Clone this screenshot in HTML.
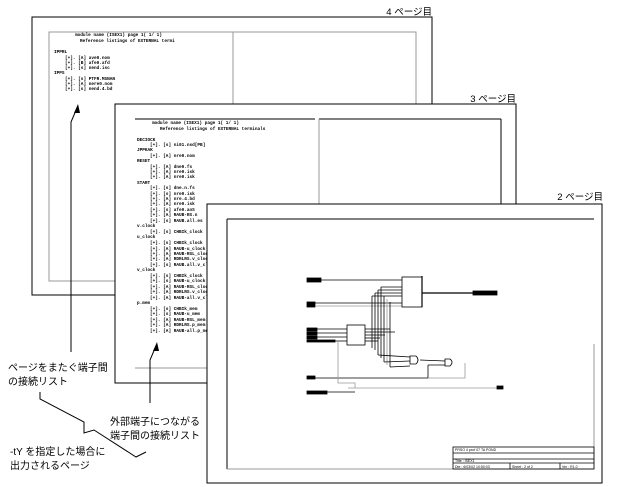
<!DOCTYPE html>
<html><head><meta charset="utf-8"><style>
html,body{margin:0;padding:0;background:#fff;}
svg{display:block;}
.t{font-family:"Liberation Mono",monospace;font-size:4.4px;fill:#000;font-weight:bold;}
.j{font-family:"Liberation Sans","Noto Sans CJK JP",sans-serif;font-size:10px;fill:#000;}
.p{font-family:"Liberation Sans","Noto Sans CJK JP",sans-serif;font-size:9.5px;fill:#000;text-anchor:end;}
.s{font-family:"Liberation Sans",sans-serif;font-size:3.5px;fill:#000;}
</style></head><body>
<svg width="620" height="487" viewBox="0 0 620 487" xmlns="http://www.w3.org/2000/svg">
<!-- Page 4 -->
<text class="p" x="432" y="15">4 ページ目</text>
<rect x="32" y="17" width="400" height="278" fill="#fff" stroke="#000" stroke-width="1"/>
<rect x="49" y="32" width="367" height="249" fill="none" stroke="#999" stroke-width="1"/>
<line x1="233" y1="32" x2="233" y2="281" stroke="#999"/>
<g class="t">
<text x="75" y="36">module name (ISEX1) page 1( 1/ 1)</text>
<text x="80" y="42">Reference listings of EXTERNAL termi</text>
<text x="54" y="53">IPPRL</text>
<text x="65" y="59">[+]. [A] ave0.nom</text>
<text x="65" y="64">[+]. [B] afe0.afd</text>
<text x="65" y="69">[+]. [s] nend.isc</text>
<text x="54" y="74">IPPS</text>
<text x="65" y="80">[+]. [s] PTFR.MSNAN</text>
<text x="65" y="85">[+]. [A] nere0.nom</text>
<text x="65" y="90">[+]. [s] nend.4.bd</text>
</g>
<!-- Page 3 -->
<text class="p" x="516" y="102">3 ページ目</text>
<rect x="115" y="104" width="401" height="279" fill="#fff" stroke="#000" stroke-width="1"/>
<line x1="135" y1="119" x2="315" y2="119" stroke="#000"/>
<line x1="319" y1="119" x2="501" y2="119" stroke="#000"/>
<line x1="501" y1="119" x2="501" y2="210" stroke="#000"/>
<line x1="319" y1="119" x2="319" y2="210" stroke="#999"/>
<line x1="135" y1="368" x2="210" y2="368" stroke="#999"/>
<g class="t">
<text x="152" y="124">module name (ISEX1) page 1( 1/ 1)</text>
<text x="160" y="130">Reference listings of EXTERNAL terminals</text>
<text x="137" y="141">DECIOCK</text>
<text x="150" y="146">[+]. [s] ni01.nsd[PB]</text>
<text x="137" y="151">JPPKAK</text>
<text x="150" y="157">[+]. [A] nre0.nom</text>
<text x="137" y="162">RESET</text>
<text x="150" y="168">[+]. [A] dne0.fs</text>
<text x="150" y="173">[+]. [A] nre0.isk</text>
<text x="150" y="178">[+]. [A] nre0.isk</text>
<text x="137" y="184">START</text>
<text x="150" y="189">[+]. [s] dne.n.fs</text>
<text x="150" y="195">[+]. [s] nre0.isk</text>
<text x="150" y="200">[+]. [A] nre.4.bd</text>
<text x="150" y="205">[+]. [A] nre0.isk</text>
<text x="150" y="211">[+]. [s] afe0.anS</text>
<text x="150" y="216">[+]. [A] RAUB-RS.n</text>
<text x="150" y="222">[+]. [s] RAUB.all.es</text>
<text x="137" y="227">v.clock</text>
<text x="150" y="233">[+]. [s] CHBIk_clock</text>
<text x="137" y="238">u_clock</text>
<text x="150" y="244">[+]. [s] CHBIk_clock</text>
<text x="150" y="250">[+]. [A] RAUB-u_clock</text>
<text x="150" y="255">[+]. [A] RAUB-RSL_clock</text>
<text x="150" y="260">[+]. [A] RDRLRS.v_clock</text>
<text x="150" y="266">[+]. [s] RAUB.all.v_clock</text>
<text x="137" y="271">v_clock</text>
<text x="150" y="277">[+]. [s] CHBIk_clock</text>
<text x="150" y="282">[+]. [s] RAUB-u_clock</text>
<text x="150" y="288">[+]. [A] RAUB-RSL_clock</text>
<text x="150" y="293">[+]. [A] RDRLRS.v_clock</text>
<text x="150" y="299">[+]. [A] RAUB-all.v_clock</text>
<text x="137" y="304">p.mem</text>
<text x="150" y="310">[+]. [s] CHBIk_mem</text>
<text x="150" y="315">[+]. [s] RAUB-u_mem</text>
<text x="150" y="321">[+]. [A] RAUB-RSL_mem</text>
<text x="150" y="326">[+]. [A] RDRLRS.p_mem</text>
<text x="150" y="332">[+]. [A] RAUB-all.p_mem</text>
</g>
<!-- Page 2 -->
<text class="p" x="603" y="200">2 ページ目</text>
<rect x="207" y="204" width="395" height="279" fill="#fff" stroke="#000" stroke-width="1"/>
<line x1="227" y1="219" x2="594" y2="219" stroke="#000"/>
<line x1="227" y1="219" x2="227" y2="469" stroke="#000"/>
<line x1="227" y1="469" x2="594" y2="469" stroke="#999"/>
<line x1="594" y1="344" x2="594" y2="469" stroke="#999"/>
<g stroke="#000" fill="none" stroke-width="0.8">
<rect x="453" y="447" width="141" height="22"/>
<line x1="453" y1="453" x2="594" y2="453"/>
<line x1="453" y1="459" x2="594" y2="459"/>
<line x1="453" y1="463" x2="594" y2="463"/>
<line x1="510" y1="463" x2="510" y2="469"/>
<line x1="560" y1="463" x2="560" y2="469"/>
</g>
<g class="s"><text x="455" y="451">PRSO 4 pxcf 07 TA POND</text><text x="455" y="462">Titte : ISEX1</text><text x="455" y="468">Dte : 6/03/02 10:50:03</text><text x="512" y="468">Sheet : 2 of 2</text><text x="562" y="468">Ver : R1.0</text></g>
<!-- schematic -->
<g stroke="#000" stroke-width="0.8" fill="none">
<rect x="307" y="278" width="14" height="4" fill="#000"/>
<line x1="321" y1="280" x2="402" y2="280"/>
<rect x="307" y="302" width="8" height="5" fill="#000"/>
<line x1="315" y1="303" x2="402" y2="303"/>
<line x1="315" y1="306" x2="402" y2="306" stroke="#999"/>
<rect x="402" y="277" width="20" height="30"/>
<line x1="422" y1="276" x2="422" y2="307" stroke-width="1.2"/>
<line x1="422" y1="293" x2="473" y2="293" stroke-width="1.2"/>
<rect x="473" y="291" width="24" height="4" fill="#000"/>
<rect x="347" y="325" width="18" height="20"/>
<rect x="307" y="328" width="10" height="3" fill="#000"/>
<rect x="307" y="332" width="10" height="3" fill="#000"/>
<rect x="307" y="336" width="10" height="3" fill="#000"/>
<rect x="307" y="340" width="28" height="2" fill="#000"/>
<line x1="317" y1="329" x2="347" y2="329"/><line x1="317" y1="333" x2="347" y2="333"/><line x1="317" y1="337" x2="347" y2="337"/><line x1="335" y1="341" x2="347" y2="341"/>
<line x1="372" y1="296" x2="372" y2="348"/><line x1="375" y1="293" x2="375" y2="350"/><line x1="378" y1="290" x2="378" y2="355"/><line x1="381" y1="287" x2="381" y2="358"/>
<line x1="384" y1="296" x2="384" y2="362"/><line x1="387" y1="299" x2="387" y2="365" stroke="#999"/><line x1="390" y1="302" x2="390" y2="367"/>
<line x1="372" y1="296" x2="402" y2="296"/><line x1="375" y1="293" x2="402" y2="293"/><line x1="378" y1="290" x2="402" y2="290"/><line x1="381" y1="287" x2="402" y2="287"/>
<line x1="365" y1="329" x2="390" y2="329"/><line x1="365" y1="332" x2="395" y2="332"/><line x1="365" y1="335" x2="385" y2="335"/><line x1="365" y1="338" x2="380" y2="338"/><line x1="365" y1="341" x2="378" y2="341"/>
<line x1="378" y1="355" x2="410" y2="357"/><line x1="384" y1="362" x2="410" y2="361"/><line x1="390" y1="367" x2="410" y2="366"/>
<path d="M410 356 L416 356 Q420 360 416 364 L410 364 Z"/>
<line x1="420" y1="360" x2="445" y2="361"/>
<path d="M445 359 L450 359 Q454 362 450 366 L445 366 Z"/>
<line x1="307" y1="378" x2="428" y2="378"/>
<line x1="428" y1="378" x2="428" y2="365"/>
<line x1="428" y1="365" x2="445" y2="365"/>
<polyline points="428,378 465,378 465,363" stroke="#999"/>
<polyline points="338,341 338,383 355,383 355,388" stroke="#999"/>
<line x1="348" y1="388" x2="503" y2="388" stroke="#999"/>
<rect x="497" y="386" width="6" height="3" fill="#000"/>
<rect x="307" y="391" width="20" height="3" fill="#000"/>
<line x1="327" y1="392" x2="355" y2="392"/>
<rect x="307" y="376" width="8" height="3" fill="#000"/>
</g>
<!-- annotations -->
<g stroke="#000" stroke-width="1" fill="none">
<polyline points="71,352 71,122 77,108"/>
<polyline points="150,403 150,360 156,346"/>
<polyline points="40,392 40,399 84,422 84,433 94,430 136,457 146,452"/>
</g>
<polygon points="78,104 74,113 80,113" fill="#000"/>
<polygon points="157,342 153,351 159,351" fill="#000"/>
<text class="j" x="8" y="371">ページをまたぐ端子間</text>
<text class="j" x="8" y="385">の接続リスト</text>
<text class="j" x="110" y="425">外部端子につながる</text>
<text class="j" x="110" y="439">端子間の接続リスト</text>
<text class="j" x="10" y="455">-tY を指定した場合に</text>
<text class="j" x="10" y="469">出力されるページ</text>
</svg>
</body></html>
